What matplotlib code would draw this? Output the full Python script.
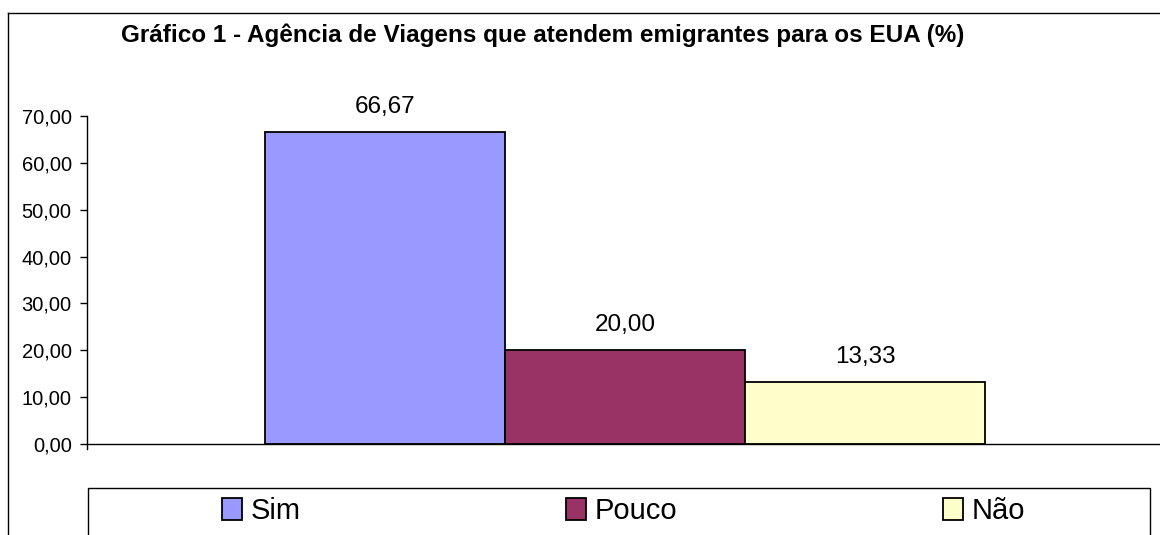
import numpy as np
import matplotlib.pyplot as plt
from matplotlib.patches import Rectangle
from matplotlib.lines import Line2D

plt.rcParams['font.family'] = ['Liberation Sans', 'DejaVu Sans']

categorias = ['Sim', 'Pouco', 'Não']
valores = [66.67, 20.00, 13.33]
cores = ['#9999FF', '#993366', '#FFFFCC']
yticks = [0, 10, 20, 30, 40, 50, 60, 70]
titulo = 'Gráfico 1 - Agência de Viagens que atendem emigrantes para os EUA (%)'

def fmt(v):
    return '{:.2f}'.format(v).replace('.', ',')

fig = plt.figure(figsize=(11.6, 5.35), dpi=100)
ax = fig.add_axes([87 / 1160, 91 / 535, 1076 / 1160, 328 / 535])

x = np.arange(len(categorias))
bars = ax.bar(x, valores, width=1.0, color=cores, edgecolor='black', linewidth=1.3)
for b, v in zip(bars, valores):
    ax.annotate(fmt(v), (b.get_x() + b.get_width() / 2, v), xytext=(0, 13.7),
                textcoords='offset points', ha='center', va='baseline', fontsize=17.5)

ax.set_xlim(-1.2417, 3.2417)
ax.set_ylim(0, 70)
ax.set_yticks(yticks)
ax.set_yticklabels([fmt(t) for t in yticks], fontsize=14.5)
ax.set_xticks([])
ax.tick_params(axis='y', direction='out', length=5, width=1, pad=6)
for s in ['top', 'right']:
    ax.spines[s].set_visible(False)
ax.spines['left'].set_bounds(-1, 70)
ax.spines['left'].set_linewidth(1)
ax.spines['bottom'].set_linewidth(1)

fig.text(543 / 1160, 1 - 42 / 535, titulo, ha='center', va='baseline', fontsize=17.5, fontweight='bold')

# moldura externa
fig.add_artist(Line2D([8 / 1160, 1], [1 - 13 / 535, 1 - 13 / 535], color='black', lw=1, transform=fig.transFigure))
fig.add_artist(Line2D([8 / 1160, 8 / 1160], [0, 1 - 13 / 535], color='black', lw=1, transform=fig.transFigure))

# caixa da legenda
fig.add_artist(Rectangle((88 / 1160, -0.05), (1150 - 88) / 1160, 0.05 + 47 / 535, fill=False,
                         edgecolor='black', lw=1, transform=fig.transFigure))
leg = fig.legend(handles=list(bars), labels=categorias, loc='center left',
                 bbox_to_anchor=(222 / 1160, 1 - 511 / 535), ncol=3, frameon=False,
                 fontsize=21, handlelength=0.7, handleheight=0.75, handletextpad=0.28,
                 columnspacing=9.1, borderpad=0, borderaxespad=0)

fig.savefig('out.png', dpi=100)
